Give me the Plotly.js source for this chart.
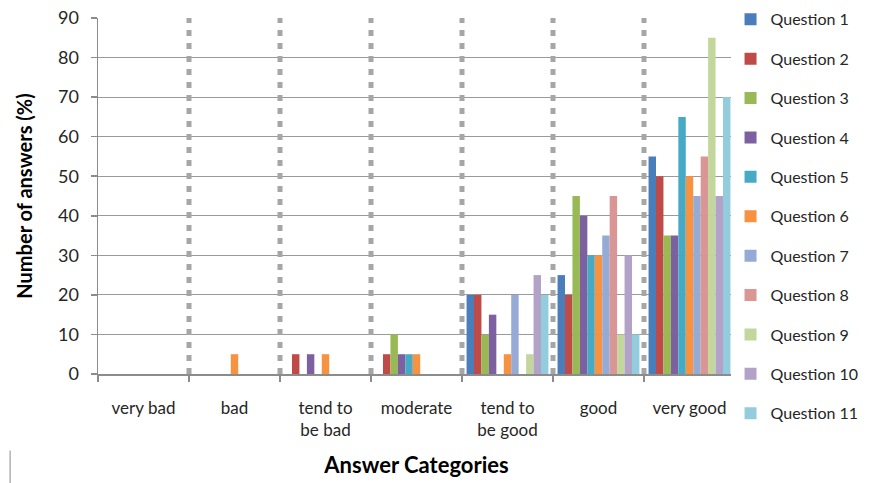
<!DOCTYPE html>
<html><head><meta charset="utf-8">
<script src="https://cdn.plot.ly/plotly-3.0.1.min.js"></script>
<style>html,body{margin:0;padding:0;background:#fff}#chart{width:873px;height:483px}</style>
</head><body><div id="chart"></div>
<script>
const categories = ["very bad","bad","tend to<br>be bad","moderate","tend to<br>be good","good","very good"];
const questions = ["Question 1","Question 2","Question 3","Question 4","Question 5","Question 6","Question 7","Question 8","Question 9","Question 10","Question 11"];
const q1  = [0,0,0,0,20,25,55];
const q2  = [0,0,5,5,20,20,50];
const q3  = [0,0,0,10,10,45,35];
const q4  = [0,0,5,5,15,40,35];
const q5  = [0,0,0,5,0,30,65];
const q6  = [0,5,5,5,5,30,50];
const q7  = [0,0,0,0,20,35,45];
const q8  = [0,0,0,0,0,45,55];
const q9  = [0,0,0,0,5,10,85];
const q10 = [0,0,0,0,25,30,45];
const q11 = [0,0,0,0,20,10,70];
const series = [q1,q2,q3,q4,q5,q6,q7,q8,q9,q10,q11];
const colors = ["#4A7EBB","#BE4B48","#98B954","#7D60A0","#46AAC5","#F69240","#95ABD6","#D99694","#C3D69B","#B2A2C7","#93CDDD"];
const yTicks = [0,10,20,30,40,50,60,70,80,90];

const FONT = "Lato, 'Open Sans', sans-serif";
const TXT = '#262626';
const traces = series.map((vals,i)=>({
  type:'bar', x:categories, y:vals, name:questions[i], legendgroup:'g'+i,
  marker:{color:colors[i], line:{width:0}}
}));

const shapes = [];
for (let i=0;i<categories.length-1;i++){
  shapes.push({type:'line', xref:'x', yref:'y', x0:i+0.5, x1:i+0.5, y0:0, y1:90,
    line:{color:'#A6A6A6', width:5, dash:'6px,7px'}, layer:'above'});
}
// small stray mark at bottom left of the original picture
shapes.push({type:'line', xref:'paper', yref:'paper', x0:-0.138, x1:-0.138, y0:-0.215, y1:-0.31,
  line:{color:'#8C8C8C', width:1}});

const layout = {
  width:873, height:483,
  margin:{l:98, r:138, t:18, b:109, autoexpand:false},
  paper_bgcolor:'#fff', plot_bgcolor:'#fff',
  font:{family:FONT, size:15, color:TXT},
  barmode:'group', bargap:0.1, bargroupgap:0,
  showlegend:true,
  legend:{x:0.993, xanchor:'left', y:1.044, yanchor:'top', traceorder:'grouped', tracegroupgap:15.6,
    maxheight:483, font:{family:FONT, size:16, color:TXT}, itemwidth:30},
  xaxis:{type:'category', showline:true, linecolor:'#8C8C8C', linewidth:1.5,
    ticks:'outside', tickson:'boundaries', ticklen:6, tickcolor:'#8C8C8C', tickwidth:1.5,
    tickangle:0, ticklabelstandoff:18, showgrid:false, zeroline:false, automargin:false,
    tickfont:{family:FONT, size:17, color:TXT},
    title:{text:'<b>Answer Categories</b>', font:{family:FONT, size:22, color:'#000'}, standoff:18}},
  yaxis:{range:[0,90], tickvals:yTicks, showline:true, linecolor:'#8C8C8C', linewidth:1.5,
    ticks:'outside', ticklen:6, tickcolor:'#8C8C8C', tickwidth:1.5,
    showgrid:true, gridcolor:'#9A9A9A', gridwidth:1, zeroline:false, automargin:false,
    ticklabelstandoff:8,
    tickfont:{family:FONT, size:18, color:TXT},
    title:{text:'<b>Number of answers (%)</b>', font:{family:FONT, size:20, color:'#000'}, standoff:20}},
  shapes:shapes
};
Plotly.newPlot('chart', traces, layout, {displayModeBar:false, staticPlot:true});
</script></body></html>
